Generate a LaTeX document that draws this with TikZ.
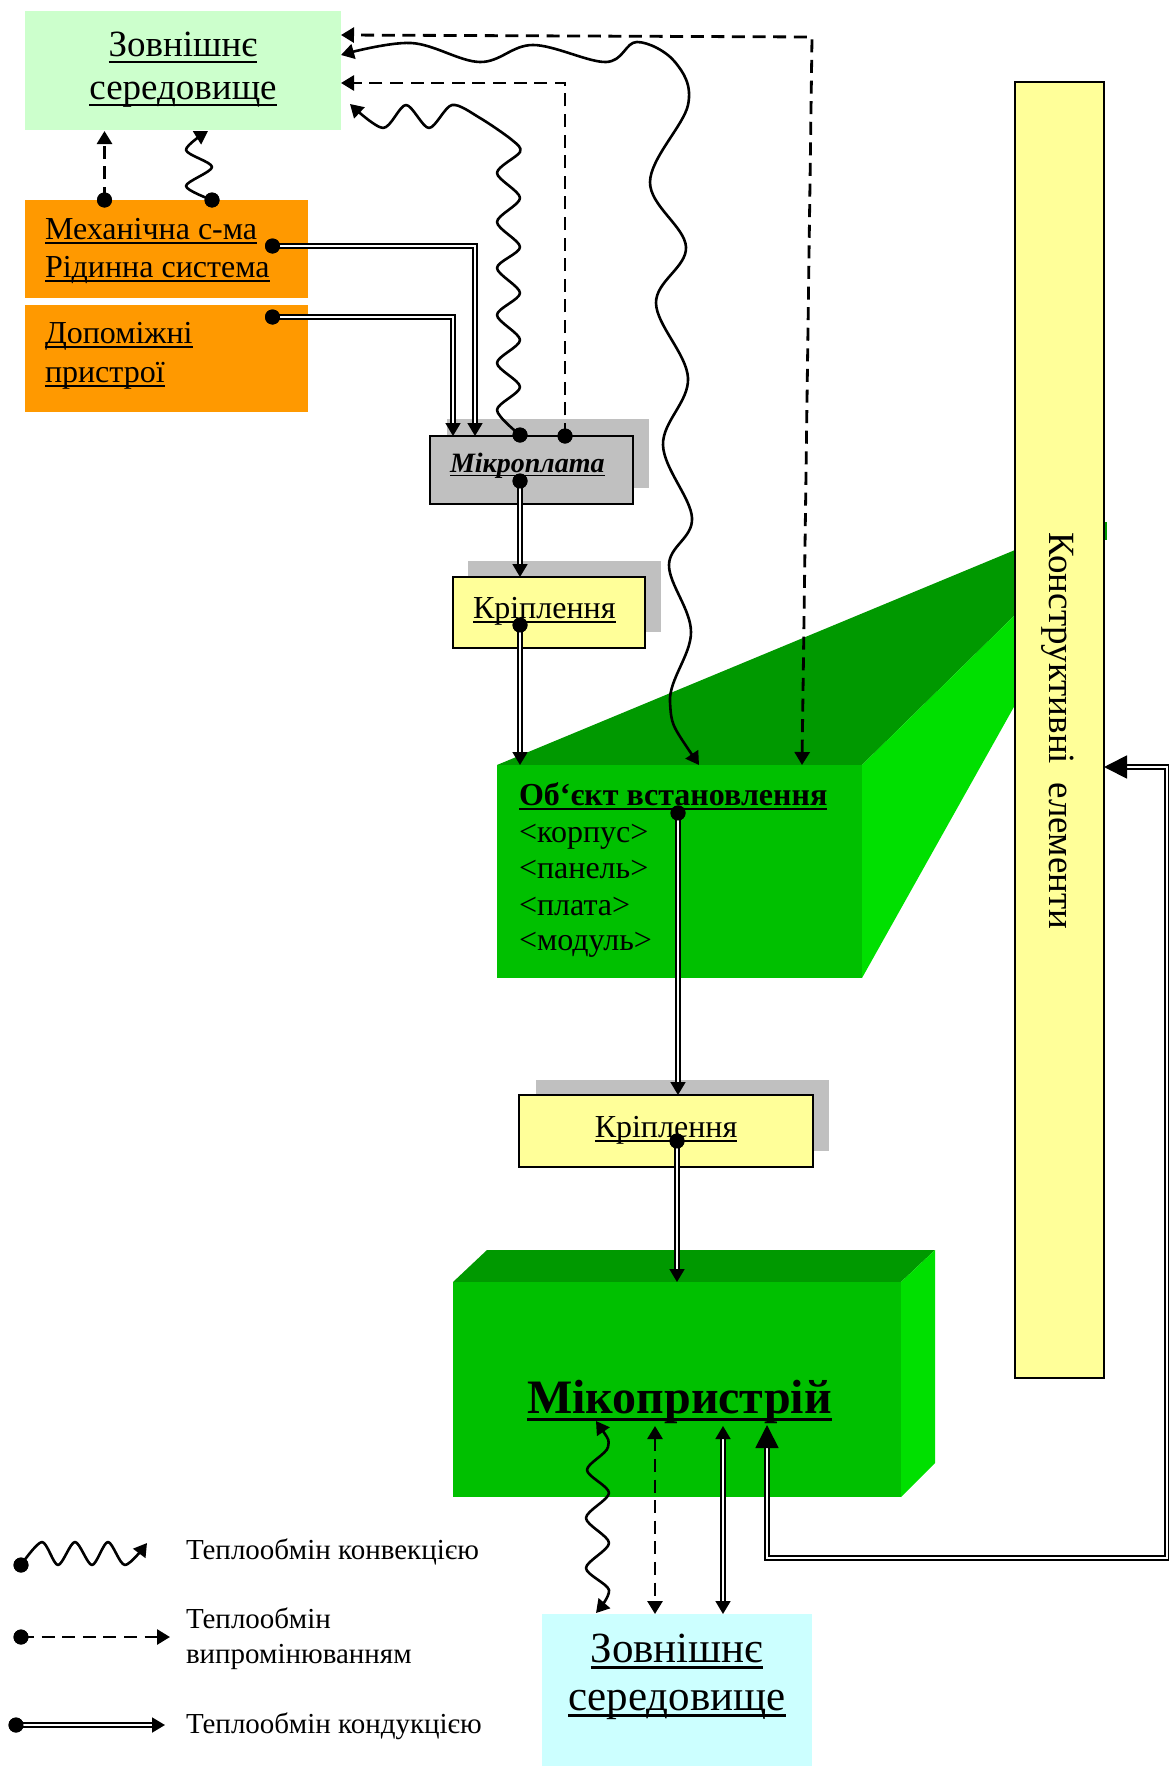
\documentclass[tikz,border=0pt]{standalone}
\usepackage{fontspec}
\setmainfont{Liberation Serif}
\usetikzlibrary{arrows.meta,fit}

\definecolor{envgreen}{HTML}{CCFFCC}
\definecolor{envcyan}{HTML}{CCFFFF}
\definecolor{amber}{HTML}{FF9900}
\definecolor{shadowgray}{HTML}{C0C0C0}
\definecolor{paleyellow}{HTML}{FFFF99}
\definecolor{greenfront}{HTML}{00C000}
\definecolor{greentop}{HTML}{009900}
\definecolor{greenside}{HTML}{00E000}

% underlined text with the rule just below the baseline
\newsavebox\ulbox
\newcommand\ulx[1]{\sbox\ulbox{#1}\rlap{\rule[-0.16em]{\wd\ulbox}{0.065em}}\usebox\ulbox}
\newcommand\fs[2]{\fontsize{#1pt}{#2pt}\selectfont}

\begin{document}
\begin{tikzpicture}[x=0.5pt,y=-0.5pt,
  area/.style={inner sep=0pt,outer sep=0pt},
  framed/.style={area,draw=black,line width=1.1pt},
  dot/.style={circle,fill=black,inner sep=0pt,minimum size=7.5pt},
  txt/.style={inner sep=0pt,outer sep=0pt,anchor=base west},
  ctxt/.style={inner sep=0pt,outer sep=0pt,anchor=base},
  conv/.style={line width=1.3pt,line join=round},
  rad/.style={line width=1.4pt,dash pattern=on 6.5pt off 3.8pt},
  cond/.style={line width=0.9pt,double=white,double distance=1.1pt},
  >={Triangle[length=6.5pt,width=7.5pt]},
  bigtip/.tip={Triangle[length=11.5pt,width=11.5pt]}]
\useasboundingbox (0,0) rectangle (1168,1766);

% shadows behind the small boxes
\node[area,fill=shadowgray,fit={(447,419) (649,488)}] (mpShade) {};
\node[area,fill=shadowgray,fit={(468,561) (661,632)}] (krAShade) {};
\node[area,fill=shadowgray,fit={(536,1080) (829,1151)}] (krBShade) {};

% boxes
\node[area,fill=envgreen,fit={(25,11) (341,130)}] (envTop) {};
\node[area,fill=amber,fit={(25,200) (308,298)}] (mech) {};
\node[area,fill=amber,fit={(25,305) (308,412)}] (aux) {};
\node[framed,fill=shadowgray,fit={(430,436) (633,504)}] (mp) {};
\node[framed,fill=paleyellow,fit={(453,577) (645,648)}] (krA) {};

% installation object (extruded block)
\fill[greentop] (497,765) -- (1015,550) -- (1015,615) -- (862,765) -- cycle;
\fill[greenside] (862,765) -- (1015,615) -- (1015,705) -- (862,978) -- cycle;
\node[area,fill=greenfront,fit={(497,765) (862,978)}] (obj) {};

\node[framed,fill=paleyellow,fit={(519,1095) (813,1167)}] (krB) {};

% device block
\fill[greentop] (453,1282) -- (487,1250) -- (935,1250) -- (901,1282) -- cycle;
\fill[greenside] (901,1282) -- (935,1250) -- (935,1463) -- (901,1497) -- cycle;
\node[area,fill=greenfront,fit={(453,1282) (901,1497)}] (dev) {};

% structural elements bar
\node[framed,fill=paleyellow,fit={(1015,82) (1104,1378)}] (bar) {};
\fill[greentop] (1105,522) rectangle (1107,540);

\node[area,fill=envcyan,fit={(542,1614) (812,1780)}] (envBot) {};

% texts
\node[ctxt,font=\fs{18.5}{22}] (envTopA) at (183,57) {\ulx{Зовнішнє}};
\node[ctxt,font=\fs{18.5}{22}] (envTopB) at (183,100) {\ulx{середовище}};
\node[txt,font=\fs{16}{19}] (mechA) at (45,239) {\ulx{Механічна с-ма}};
\node[txt,font=\fs{16}{19}] (mechB) at (45,277) {\ulx{Рідинна система}};
\node[txt,font=\fs{16}{19}] (auxA) at (45,343) {\ulx{Допоміжні}};
\node[txt,font=\fs{16}{19}] (auxB) at (45,382) {\ulx{пристрої}};
\node[txt,font=\fs{14}{17}\bfseries\itshape] (mpT) at (450,472) {\ulx{Мікроплата}};
\node[txt,font=\fs{16}{19}] (krAT) at (473,618) {\ulx{Кріплення}};
\node[txt,font=\fs{16}{19}\bfseries] (objT) at (519,805) {\ulx{Об‘єкт встановлення}};
\node[txt,font=\fs{16}{19}] (objA) at (519,842) {<корпус>};
\node[txt,font=\fs{16}{19}] (objB) at (519,878) {<панель>};
\node[txt,font=\fs{16}{19}] (objC) at (519,915) {<плата>};
\node[txt,font=\fs{16}{19}] (objD) at (519,950) {<модуль>};
\node[ctxt,font=\fs{16}{19}] (krBT) at (666,1137) {\ulx{Кріплення}};
\node[txt,font=\fs{24}{28}\bfseries] (devT) at (527,1413) {\ulx{Мікопристрій}};
\node[inner sep=0pt,font=\fs{18.5}{22},rotate=-90] (barT) at (1058,731) {Конструктивні~~елементи};
\node[ctxt,font=\fs{21.5}{25}] (envBotA) at (677,1662) {\ulx{Зовнішнє}};
\node[ctxt,font=\fs{21.5}{25}] (envBotB) at (677,1710) {\ulx{середовище}};

% dots where the flows leave a block
\node[dot] (mechDotA) at (104.5,200) {};
\node[dot] (mechDotB) at (212,200) {};
\node[dot] (mechDotC) at (272.5,246) {};
\node[dot] (auxDot) at (272.5,317) {};
\node[dot] (mpDotA) at (520,435) {};
\node[dot] (mpDotB) at (565,436) {};
\node[dot] (mpDotC) at (520,481) {};
\node[dot] (krADot) at (520,625) {};
\node[dot] (objDot) at (678,813) {};
\node[dot] (krBDot) at (677,1141) {};

% connector end points
\coordinate (topR1) at (341,35);
\coordinate (topR2) at (341,55);
\coordinate (topR3) at (341,83);
\coordinate (topR4) at (350,104);
\coordinate (topB1) at (104.5,131);
\coordinate (topB2) at (208,131);
\coordinate (mpIn1) at (475,436);
\coordinate (mpIn2) at (453,436);
\coordinate (objIn1) at (699,765);
\coordinate (objIn2) at (802,765);
\coordinate (devW) at (596,1421);
\coordinate (devR) at (655,1426);
\coordinate (devC) at (723,1426);
\coordinate (devK) at (767,1425);
\coordinate (envW) at (596,1613);
\coordinate (barIn) at (bar.east |- 0,767);

% radiation (dashed)
\draw[rad,<->] (objIn2) -- (812,37) -- (topR1);
\draw[rad,->] (mpDotB.center) -- (565,83) -- (topR3);
\draw[rad,->] (mechDotA.center) -- (topB1);
\draw[rad,<->] (devR) -- (envBot.north -| devR);

% convection (wavy)
\draw[conv,<->] plot[smooth,tension=0.6] coordinates {(objIn1) (670,702) (691,632) (669,565) (692,518) (663,445) (688,378) (656,303) (686,247) (650,182) (688,105) (675,62) (637,42) (606,62) (533,45) (480,62) (411,43) (topR2)};
\draw[conv,->] plot[smooth] coordinates {(mpDotA.center) (497,410) (520,387) (497,363) (520,340) (497,315) (520,293) (497,268) (520,247) (497,222) (520,198) (497,173) (520,152) (512,140) (480,118) (452,105) (429,128) (406,105) (383,128) (topR4)};
\draw[conv,->] plot[smooth] coordinates {(mechDotB.center) (186,186) (212,167) (186,150) (topB2)};
\draw[conv,<->] plot[smooth] coordinates {(devW) (608,1447) (587,1470) (609,1493) (586,1518) (609,1543) (586,1568) (609,1590) (envW)};

% conduction (double lines)
\draw[cond,->] (mechDotC.center) -| (mpIn1);
\draw[cond,->] (auxDot.center) -| (mpIn2);
\draw[cond,->] (mpDotC.center) -- (krA.north -| mpDotC);
\draw[cond,->] (krADot.center) -- (obj.north -| krADot);
\draw[cond,->] (objDot.center) -- (krB.north -| objDot);
\draw[cond,->] (krBDot.center) -- (dev.north -| krBDot);
\draw[cond,<->] (devC) -- (envBot.north -| devC);
\draw[cond,bigtip-bigtip] (devK) -- (767,1558) -- (1167,1558) -- (1167,767) -- (barIn);

% redraw the dots on top of the lines
\foreach \d in {mechDotA,mechDotB,mechDotC,auxDot,mpDotA,mpDotB,mpDotC,krADot,objDot,krBDot}
  \fill (\d) circle (3.75pt);

% legend
\node[dot] (lgA) at (21,1565) {};
\coordinate (lgAe) at (147,1543);
\draw[conv,->] plot[smooth] coordinates {(lgA.center) (42,1542) (58,1565) (75,1542) (92,1565) (108,1542) (125,1565) (lgAe)};
\node[dot] (lgB) at (21,1637) {};
\coordinate (lgBe) at (170,1637);
\draw[rad,->] (lgB.center) -- (lgBe);
\node[dot] (lgC) at (16,1725) {};
\coordinate (lgCe) at (165,1725);
\draw[cond,->] (lgC.center) -- (lgCe);
\fill (lgA) circle (3.75pt) (lgB) circle (3.75pt) (lgC) circle (3.75pt);

\node[txt,font=\fs{14.5}{17}] (lgAT) at (186,1559) {Теплообмін конвекцією};
\node[txt,font=\fs{14.5}{17}] (lgBT) at (186,1628) {Теплообмін};
\node[txt,font=\fs{14.5}{17}] (lgBT2) at (186,1663) {випромінюванням};
\node[txt,font=\fs{14.5}{17}] (lgCT) at (186,1733) {Теплообмін кондукцією};
\end{tikzpicture}
\end{document}
